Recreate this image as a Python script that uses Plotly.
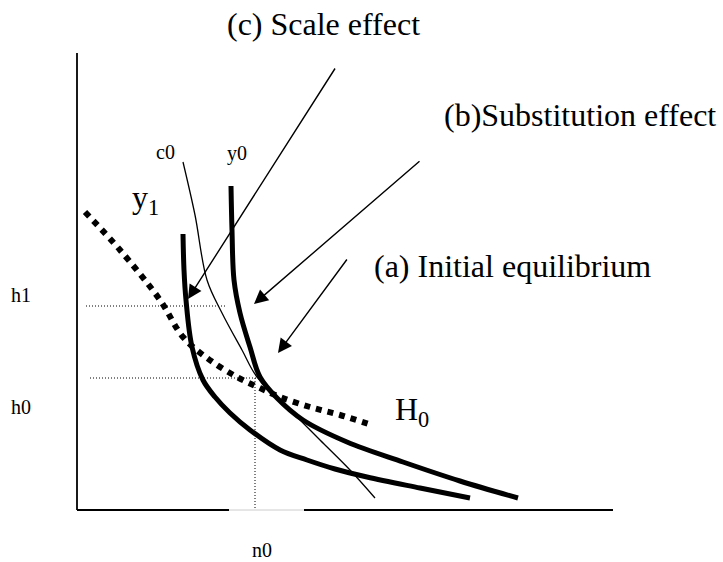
import plotly.graph_objects as go

# Diagram coordinates (pixel-like units, y grows downward)
y1_x = [183, 184, 186, 192, 203, 215, 230, 250, 280, 307, 335, 367, 420, 470]
y1_y = [234, 270, 300, 347, 380, 397, 413, 430, 450, 460, 469, 477, 488, 498]

y0_x = [231, 232, 234, 240, 250, 260, 277, 303, 347, 403, 460, 518]
y0_y = [186, 230, 280, 313, 347, 377, 398, 420, 442, 462, 481, 498]

c0_x = [183, 195, 207, 222, 242, 257, 290, 320, 350, 375]
c0_y = [162, 215, 280, 313, 350, 377, 410, 440, 470, 498]

H0_x = [85, 120, 160, 183, 207, 237, 260, 280, 310, 340, 372]
H0_y = [212, 250, 300, 337, 358, 377, 388, 397, 407, 415, 425]

h_levels = [306, 378]
h_ends = [227, 257]
n0_x = 255

fig = go.Figure()
serif = "Liberation Serif"

# axes
fig.add_trace(go.Scatter(x=[77, 77], y=[53, 510], mode="lines",
                         line=dict(color="black", width=1.8), hoverinfo="skip"))
fig.add_trace(go.Scatter(x=[77, 229], y=[510, 510], mode="lines",
                         line=dict(color="black", width=1.8), hoverinfo="skip"))
fig.add_trace(go.Scatter(x=[229, 304], y=[510, 510], mode="lines",
                         line=dict(color="#cccccc", width=1), hoverinfo="skip"))
fig.add_trace(go.Scatter(x=[304, 613], y=[510, 510], mode="lines",
                         line=dict(color="black", width=1.8), hoverinfo="skip"))

# dotted guide lines
fig.add_trace(go.Scatter(x=[86, h_ends[0]], y=[h_levels[0]] * 2, mode="lines",
                         line=dict(color="black", width=1, dash="1px,2px"), hoverinfo="skip"))
fig.add_trace(go.Scatter(x=[90, h_ends[1]], y=[h_levels[1]] * 2, mode="lines",
                         line=dict(color="black", width=1, dash="1px,2px"), hoverinfo="skip"))
fig.add_trace(go.Scatter(x=[n0_x, n0_x], y=[h_levels[1], 510], mode="lines",
                         line=dict(color="black", width=1, dash="1px,2px"), hoverinfo="skip"))

# curves
fig.add_trace(go.Scatter(x=c0_x, y=c0_y, mode="lines", line=dict(color="black", width=1.3, shape="spline"),
                         hoverinfo="skip"))
fig.add_trace(go.Scatter(x=H0_x, y=H0_y, mode="lines", line=dict(color="black", width=6, shape="spline", dash="dot"),
                         hoverinfo="skip"))
fig.add_trace(go.Scatter(x=y1_x, y=y1_y, mode="lines", line=dict(color="black", width=5, shape="spline"),
                         hoverinfo="skip"))
fig.add_trace(go.Scatter(x=y0_x, y=y0_y, mode="lines", line=dict(color="black", width=5, shape="spline"),
                         hoverinfo="skip"))

# arrows
arrows = [((336, 67), (188, 299)), ((421, 160), (254, 304)), ((348, 258), (278, 353))]
for (sx, sy), (ex, ey) in arrows:
    fig.add_annotation(x=ex, y=ey, ax=sx, ay=sy, xref="x", yref="y", axref="x", ayref="y",
                       showarrow=True, arrowhead=2, arrowsize=2.0, arrowwidth=1.4, arrowcolor="black", text="")

texts = [
    (323, 24, "(c) Scale effect", 32),
    (580, 115, "(b)Substitution effect", 32),
    (512, 266, "(a) Initial equilibrium", 32),
    (165, 152, "c0", 20),
    (237, 153, "y0", 20),
    (21, 295, "h1", 20),
    (21, 407, "h0", 20),
    (262, 550, "n0", 20),
]
for x, y, t, s in texts:
    fig.add_annotation(x=x, y=y, text=t, showarrow=False, xref="x", yref="y",
                       font=dict(family=serif, size=s, color="black"))
fig.add_annotation(x=145, y=199, text="y<sub>1</sub>", showarrow=False,
                   font=dict(family=serif, size=32, color="black"))
fig.add_annotation(x=412, y=411, text="H<sub>0</sub>", showarrow=False,
                   font=dict(family=serif, size=32, color="black"))

fig.update_layout(width=723, height=562, margin=dict(l=0, r=0, t=0, b=0),
                  paper_bgcolor="white", plot_bgcolor="white", showlegend=False,
                  xaxis=dict(range=[0, 723], visible=False, fixedrange=True),
                  yaxis=dict(range=[562, 0], visible=False, fixedrange=True))
fig.write_html("out.html", config={"displayModeBar": False},
               post_script="document.body.style.margin='0';document.body.style.overflow='hidden';")
